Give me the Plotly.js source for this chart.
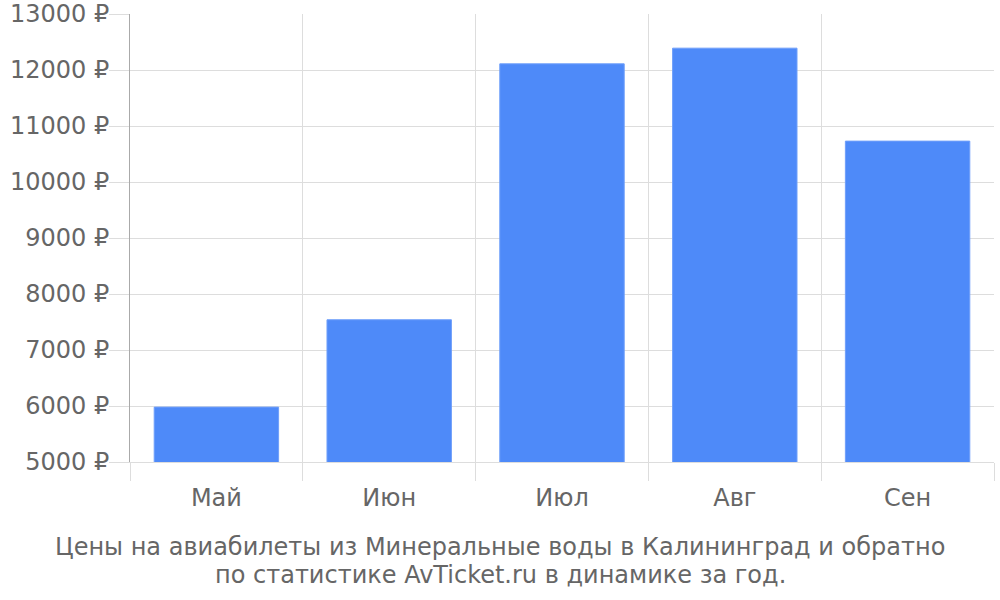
<!DOCTYPE html>
<html>
<head>
<meta charset="utf-8">
<script src="https://cdn.plot.ly/plotly-3.0.1.min.js"></script>
<style>html,body{margin:0;padding:0;background:#fff;}#chart{width:1000px;height:600px;}</style>
</head>
<body>
<div id="chart"></div>
<script>
var months = ["Май", "Июн", "Июл", "Авг", "Сен"];
var prices = [5980, 7540, 12110, 12390, 10730];
var yTickSuffix = " ₽";
var titleLines = [
  "Цены на авиабилеты из Минеральные воды в Калининград и обратно",
  "по статистике AvTicket.ru в динамике за год."
];

var trace = {
  type: "bar",
  x: months,
  y: prices,
  marker: {color: "#4e8af9", line: {color: "#6f9ffa", width: 1}},
  hoverinfo: "x+y"
};

var fontFam = "DejaVu Sans, sans-serif";
var fsize = 24;
var W = 1000, H = 600;
var M = {l: 130, r: 6, t: 14, b: 138};
var plotW = W - M.l - M.r, plotH = H - M.t - M.b;
var titleCentersPx = [547, 575];

var annotations = titleLines.map(function (line, i) {
  return {
    text: line,
    xref: "paper", yref: "paper",
    x: (W / 2 - M.l) / plotW,
    y: (H - M.b - titleCentersPx[i]) / plotH,
    xanchor: "center", yanchor: "middle",
    showarrow: false,
    font: {family: fontFam, size: fsize, color: "#666666"}
  };
});

var layout = {
  width: W,
  height: H,
  margin: {l: M.l, r: M.r, t: M.t, b: M.b, pad: 0},
  paper_bgcolor: "#ffffff",
  plot_bgcolor: "#ffffff",
  font: {family: fontFam, size: fsize, color: "#666666"},
  showlegend: false,
  bargap: 0.28,
  annotations: annotations,
  xaxis: {
    type: "category",
    tickson: "boundaries",
    ticks: "outside",
    ticklen: 18,
    tickcolor: "#dddddd",
    tickwidth: 1,
    ticklabelstandoff: 14,
    showgrid: true,
    gridcolor: "#dddddd",
    gridwidth: 1,
    showline: true,
    linecolor: "#dddddd",
    linewidth: 1,
    tickfont: {family: fontFam, size: fsize, color: "#666666"},
    fixedrange: true
  },
  yaxis: {
    range: [5000, 13000],
    dtick: 1000,
    tick0: 5000,
    tickformat: "d",
    ticksuffix: yTickSuffix,
    ticks: "outside",
    ticklen: 20,
    tickcolor: "#dddddd",
    ticklabelstandoff: -5,
    showgrid: true,
    gridcolor: "#dddddd",
    gridwidth: 1,
    zeroline: false,
    showline: true,
    linecolor: "#aaaaaa",
    linewidth: 1,
    tickfont: {family: fontFam, size: fsize, color: "#666666"},
    fixedrange: true
  }
};

Plotly.newPlot("chart", [trace], layout, {displayModeBar: false, staticPlot: true});
</script>
</body>
</html>
